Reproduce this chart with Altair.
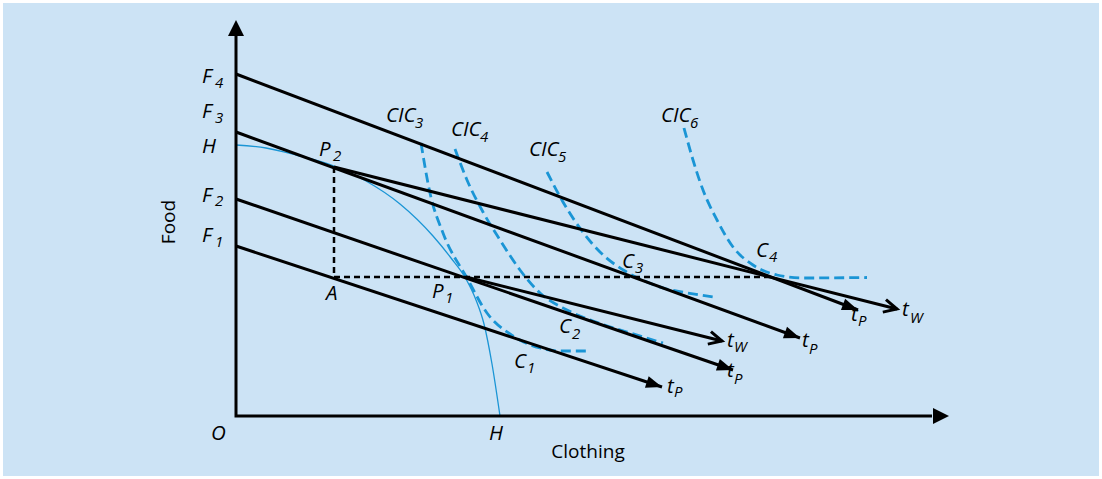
import math
import altair as alt
import pandas as pd

# Drawing units: clothing along x, food along y (one unit per pixel of the plot area)
X_DOMAIN = [0, 711]
Y_DOMAIN = [0, 398]

BG = "#cce3f5"
BLUE = "#1a95d5"
FONT = "Open Sans"

# Domestic price lines t_P, from the food intercepts F1..F4
dom_x0 = [0, 0, 0, 0]
dom_y0 = [170, 217, 284, 342]
dom_x1 = [426, 497, 564, 622]
dom_y1 = [29, 46, 78, 106]

# World price lines t_W through the production points P1 and P2
world_x0 = [230, 98]
world_y0 = [139, 249]
world_x1 = [486, 661]
world_y1 = [75, 107]

# Production possibility frontier H-H
ppf_x = [0, 30, 60, 98, 130, 164, 197, 215, 230, 240, 248, 256, 264]
ppf_y = [271, 268, 261, 250, 235, 212, 180, 158, 137, 116, 92, 52, 0]

# Community indifference curves CIC3..CIC6
cic3_x = [185, 194, 207, 231, 251, 274, 304, 324, 352]
cic3_y = [273, 223, 183, 138, 103, 82, 68, 65, 65]
cic4_x = [219, 231, 247, 264, 284, 304, 331, 357, 391, 427]
cic4_y = [267, 236, 204, 176, 146, 123, 106, 95, 84, 73]
cic5_x = [311, 327, 346, 364, 389, 411, 429, 449, 477]
cic5_y = [244, 214, 185, 164, 145, 134, 127.5, 123.5, 119]
cic6_x = [448, 457, 467, 481, 497, 517, 541, 567, 631]
cic6_y = [288, 256, 226, 196, 169, 151, 141, 138, 138.5]

# Dashed guides P2 -> A -> C4
guide_x = [98, 98, 534]
guide_y = [249, 139, 139]

# Axes (drawn as one polyline) and their arrow tips
axis_x = [0, 0, 696]
axis_y = [381, 0, 0]
axis_tip_x = [713, 0]
axis_tip_y = [0, 396]
axis_tip_angle = [0, 270]

# Italic point labels and their subscripts
main_text = ["F", "F", "H", "F", "F", "O", "H", "A", "P", "P",
             "CIC", "CIC", "CIC", "CIC", "C", "C", "C", "C",
             "t", "t", "t", "t", "t", "t"]
main_x = [-34, -34, -34, -34, -34, -25, 253, 90, 196, 83,
          150, 215, 293, 425, 386, 520, 323, 278,
          431, 491, 491, 566, 615, 666]
main_y = [333, 298, 263, 214, 174, -24, -24, 116, 118, 260,
          294, 280, 260, 294, 148, 159, 83, 48,
          23, 39, 69, 69, 95, 100]

sub_text = ["4", "3", "2", "1", "1", "2", "3", "4", "5", "6",
            "3", "4", "2", "1", "P", "P", "W", "P", "P", "W"]
sub_x = [-21, -21, -21, -21, 209, 97, 179, 244, 322, 454,
         399, 533, 336, 291, 438, 498, 498, 573, 622, 674]
sub_y = [328, 293, 210, 169, 113, 255, 288, 274, 254, 288,
         143, 154, 77, 43, 19, 32, 64, 62, 90, 93]

axis_titles = ["Food", "Clothing"]
title_x = [-67, 352]
title_y = [194, -42]
title_angle = [270, 0]
title_baseline = ["middle", "alphabetic"]


def segments(x0, y0, x1, y1, prefix):
    rows = []
    for k, (a, b, c, d) in enumerate(zip(x0, y0, x1, y1)):
        rows.append({"id": f"{prefix}{k}", "i": 0, "x": a, "y": b})
        rows.append({"id": f"{prefix}{k}", "i": 1, "x": c, "y": d})
    return pd.DataFrame(rows)


def polylines(curves):
    rows = []
    for name, xs, ys in curves:
        for i, (a, b) in enumerate(zip(xs, ys)):
            rows.append({"id": name, "i": i, "x": a, "y": b})
    return pd.DataFrame(rows)


def tips(x0, y0, x1, y1):
    return pd.DataFrame({
        "x": x1, "y": y1,
        "angle": [math.degrees(math.atan2(-(d - b), c - a)) % 360
                  for a, b, c, d in zip(x0, y0, x1, y1)],
    })


xs = alt.X("x:Q", scale=alt.Scale(domain=X_DOMAIN, nice=False, zero=False), axis=None)
ys = alt.Y("y:Q", scale=alt.Scale(domain=Y_DOMAIN, nice=False, zero=False), axis=None)


def line_layer(df, **mark):
    return alt.Chart(df).mark_line(**mark).encode(
        x=xs, y=ys, detail="id:N", order="i:Q"
    )


panel = alt.Chart(pd.DataFrame({"k": [0]})).mark_rect(color=BG).encode(
    x=alt.value(-233), x2=alt.value(863), y=alt.value(-15), y2=alt.value(458)
)

ppf = line_layer(polylines([("HH", ppf_x, ppf_y)]),
                 color=BLUE, strokeWidth=1.3, interpolate="monotone")

cics = line_layer(
    polylines([("cic3", cic3_x, cic3_y), ("cic4", cic4_x, cic4_y),
               ("cic5", cic5_x, cic5_y), ("cic6", cic6_x, cic6_y)]),
    color=BLUE, strokeWidth=2.8, strokeDash=[10, 5], interpolate="monotone",
)

guides = line_layer(polylines([("g", guide_x, guide_y)]),
                    color="black", strokeWidth=2.5, strokeDash=[6, 4])

dom_lines = line_layer(segments(dom_x0, dom_y0, dom_x1, dom_y1, "d"),
                       color="black", strokeWidth=3)
world_lines = line_layer(segments(world_x0, world_y0, world_x1, world_y1, "w"),
                         color="black", strokeWidth=3)

axes = line_layer(polylines([("axes", axis_x, axis_y)]),
                  color="black", strokeWidth=3, strokeJoin="miter")

FILLED_HEAD = "M0,0L-2,-0.75L-2,0.75Z"
AXIS_HEAD = "M0,0L-2,-1L-2,1Z"
OPEN_HEAD = "M-2,-1L0,0L-2,1"

angle_enc = alt.Angle("angle:Q", scale=None)

dom_heads = alt.Chart(tips(dom_x0, dom_y0, dom_x1, dom_y1)).mark_point(
    shape=FILLED_HEAD, filled=True, size=256, opacity=1, color="black"
).encode(x=xs, y=ys, angle=angle_enc)

world_heads = alt.Chart(tips(world_x0, world_y0, world_x1, world_y1)).mark_point(
    shape=OPEN_HEAD, filled=False, size=169, opacity=1, color="black",
    strokeWidth=3, strokeJoin="miter",
).encode(x=xs, y=ys, angle=angle_enc)

axis_heads = alt.Chart(pd.DataFrame({
    "x": axis_tip_x, "y": axis_tip_y, "angle": axis_tip_angle
})).mark_point(
    shape=AXIS_HEAD, filled=True, size=256, opacity=1, color="black"
).encode(x=xs, y=ys, angle=angle_enc)

main_labels = alt.Chart(pd.DataFrame({
    "x": main_x, "y": main_y, "t": main_text
})).mark_text(
    font=FONT, fontSize=20.5, fontStyle="italic", color="black",
    align="left", baseline="alphabetic",
).encode(x=xs, y=ys, text="t:N")

sub_labels = alt.Chart(pd.DataFrame({
    "x": sub_x, "y": sub_y, "t": sub_text
})).mark_text(
    font=FONT, fontSize=15, fontStyle="italic", color="black",
    align="left", baseline="alphabetic",
).encode(x=xs, y=ys, text="t:N")

titles = [
    alt.Chart(pd.DataFrame({"x": [tx], "y": [ty], "t": [tt]})).mark_text(
        font=FONT, fontSize=19, color="black", align="center",
        baseline=tb, angle=ta,
    ).encode(x=xs, y=ys, text="t:N")
    for tt, tx, ty, ta, tb in zip(axis_titles, title_x, title_y,
                                  title_angle, title_baseline)
]

chart = alt.layer(
    panel, ppf, cics, guides, dom_lines, world_lines, axes,
    dom_heads, world_heads, axis_heads, main_labels, sub_labels, *titles,
).properties(
    width=711,
    height=398,
    padding={"left": 236, "top": 18, "right": 155, "bottom": 63},
    autosize=alt.AutoSizeParams(type="none"),
    background="white",
).configure_view(stroke=None)

chart.save("out.html", embed_options={"renderer": "svg", "actions": False})
